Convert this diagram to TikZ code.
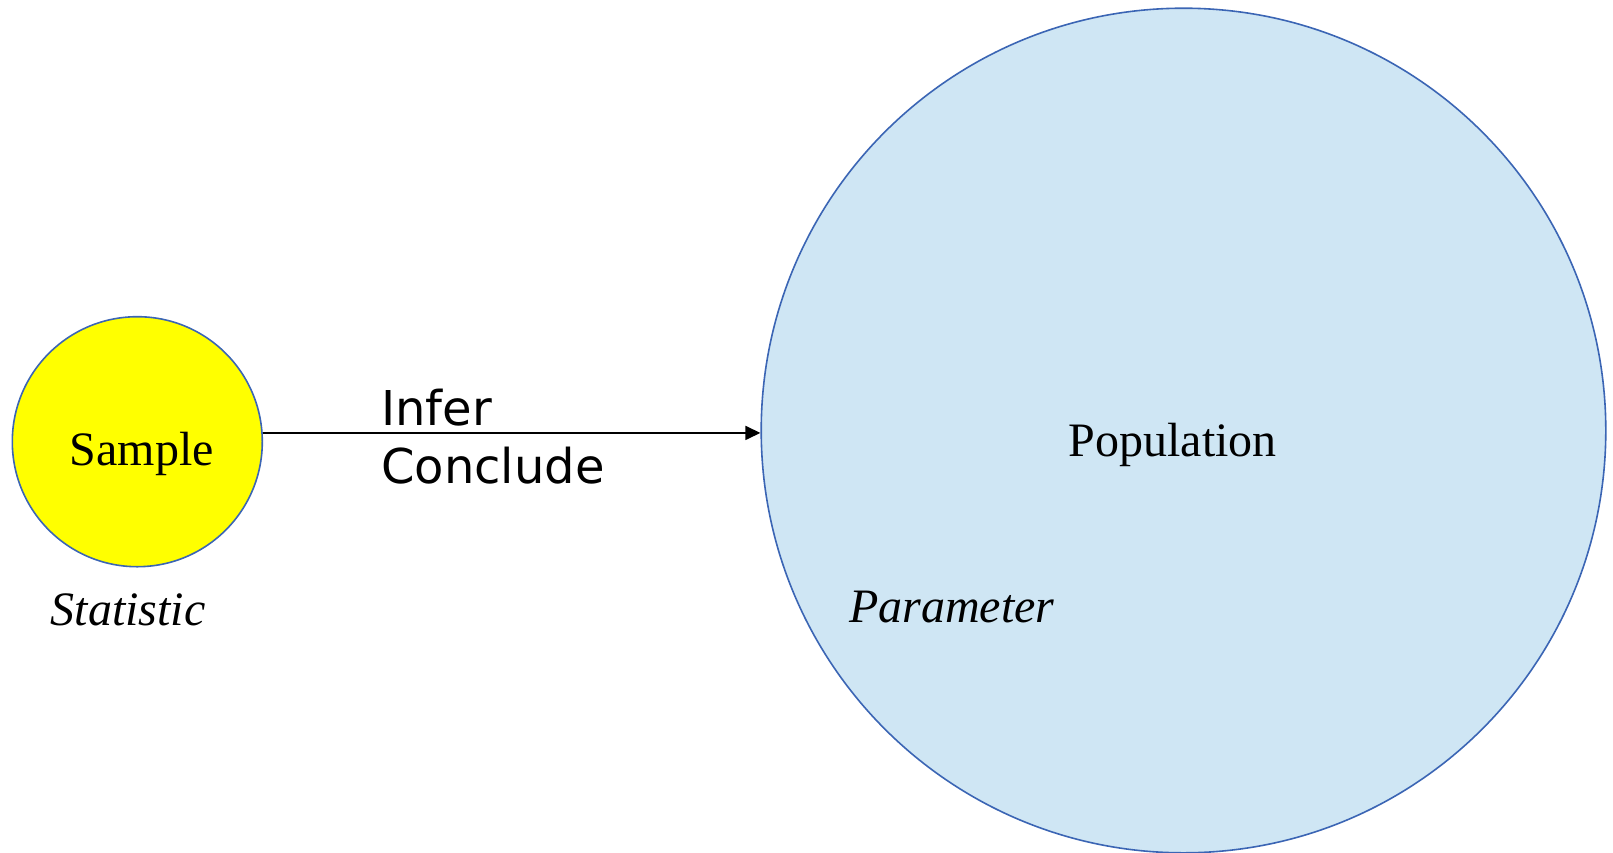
\documentclass[tikz,border=0pt]{standalone}
\usepackage{fontspec}
\setmainfont{Liberation Serif}
\newfontfamily\labelsans{DejaVu Sans}
\usetikzlibrary{arrows.meta}
\definecolor{ringblue}{RGB}{59,101,180}
\definecolor{popfill}{RGB}{207,230,244}
\definecolor{sampfill}{RGB}{255,255,0}
\tikzset{
  ring/.style={circle, draw=ringblue, line width=1.6pt, inner sep=0pt},
  serif/.style={inner sep=0pt, font=\fontsize{48}{57}\selectfont},
  serifit/.style={inner sep=0pt, font=\fontsize{48}{57}\selectfont\itshape},
  sanslabel/.style={inner sep=0pt, font=\labelsans\fontsize{48}{57}\selectfont},
  conn/.style={line width=1.6pt, -{Triangle[length=15pt,width=14pt]}}
}
\begin{document}
\begin{tikzpicture}[x=1pt,y=-1pt]
\useasboundingbox (0,0) rectangle (1613,852);
\begin{scope}
\clip (0,0) rectangle (1613,852);
\node[ring, fill=popfill, minimum size=844.6pt] (pop) at (1183.5,430.5) {};
\end{scope}
\node[ring, fill=sampfill, minimum size=250pt] (sample) at (137.3,441.7) {};
\node[serif, anchor=base west] (sampletext) at (69.5,465) {Sample};
\node[serifit, anchor=base west] (stat) at (50.5,625) {Statistic};
\node[serif, anchor=base west] (poptext) at (1068.5,456) {Population};
\node[serifit, anchor=base west] (param) at (849,622.7) {Parameter};
\node[sanslabel, anchor=base west] (infer) at (381,425) {Infer};
\node[sanslabel, anchor=base west] (concl) at (381,483.3) {Conclude};
\draw[conn] (sample.4.6) -- (sample.4.6 -| pop.west);
\end{tikzpicture}
\end{document}
